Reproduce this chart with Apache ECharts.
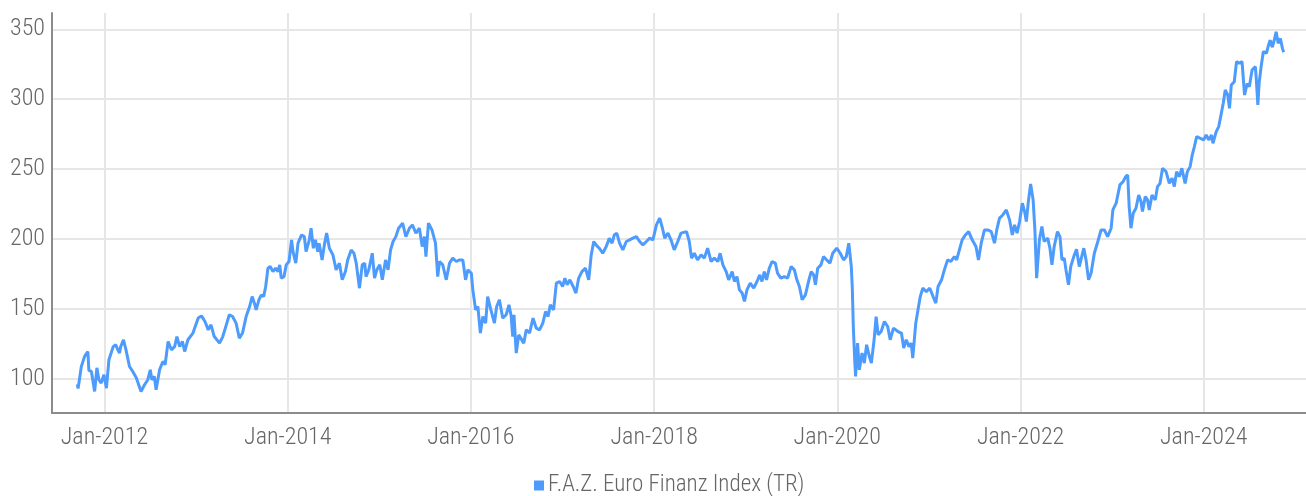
<!DOCTYPE html>
<html>
<head>
<meta charset="utf-8">
<script src="https://cdn.jsdelivr.net/npm/echarts@6/dist/echarts.min.js"></script>
<style>
  html, body { margin: 0; padding: 0; background: #fff; }
  #chart { width: 1306px; height: 496px; }
</style>
</head>
<body>
<div id="chart"></div>
<script>
// series name
const seriesName = 'F.A.Z. Euro Finanz Index (TR)';

// dates and index levels
const dates = [
  '2011-09-15','2011-09-18','2011-10-01','2011-10-14','2011-10-27','2011-10-31','2011-11-10','2011-11-23','2011-12-02','2011-12-10',
  '2011-12-19','2011-12-30','2012-01-09','2012-01-19','2012-02-05','2012-02-15','2012-02-24','2012-03-01','2012-03-06','2012-03-17',
  '2012-03-27','2012-04-10','2012-04-23','2012-05-07','2012-05-26','2012-06-09','2012-06-22','2012-07-02','2012-07-08','2012-07-18',
  '2012-07-25','2012-08-08','2012-08-21','2012-08-30','2012-09-11','2012-09-24','2012-10-07','2012-10-16','2012-10-27','2012-11-07',
  '2012-11-16','2012-11-29','2012-12-19','2013-01-09','2013-01-22','2013-02-05','2013-02-18','2013-03-01','2013-03-14','2013-03-19',
  '2013-04-04','2013-04-17','2013-05-01','2013-05-13','2013-05-26','2013-06-09','2013-06-22','2013-06-29','2013-07-05','2013-07-19',
  '2013-08-02','2013-08-12','2013-08-21','2013-08-28','2013-09-08','2013-09-18','2013-09-27','2013-10-05','2013-10-14','2013-10-23',
  '2013-11-03','2013-11-14','2013-11-23','2013-11-30','2013-12-06','2013-12-17','2013-12-26','2014-01-06','2014-01-16','2014-01-22',
  '2014-02-02','2014-02-11','2014-02-25','2014-03-08','2014-03-15','2014-03-28','2014-04-04','2014-04-13','2014-04-21','2014-05-01',
  '2014-05-06','2014-05-18','2014-05-27','2014-06-05','2014-06-16','2014-06-30','2014-07-13','2014-07-26','2014-08-06','2014-08-19',
  '2014-08-28','2014-09-11','2014-09-22','2014-10-01','2014-10-14','2014-10-25','2014-11-04','2014-11-09','2014-11-20','2014-12-04',
  '2014-12-13','2014-12-22','2015-01-03','2015-01-13','2015-01-26','2015-02-05','2015-02-15','2015-02-25','2015-03-08','2015-03-19',
  '2015-04-04','2015-04-17','2015-05-01','2015-05-13','2015-05-27','2015-06-10','2015-06-21','2015-06-30','2015-07-06','2015-07-16',
  '2015-07-30','2015-08-13','2015-08-22','2015-08-29','2015-09-11','2015-09-25','2015-10-08','2015-10-21','2015-11-04','2015-11-17',
  '2015-11-30','2015-12-11','2015-12-20','2016-01-03','2016-01-09','2016-01-20','2016-01-29','2016-02-08','2016-02-18','2016-02-29',
  '2016-03-08','2016-03-21','2016-04-04','2016-04-13','2016-04-24','2016-05-07','2016-05-21','2016-06-01','2016-06-10','2016-06-16',
  '2016-06-21','2016-06-30','2016-07-10','2016-07-17','2016-07-30','2016-08-09','2016-08-22','2016-09-05','2016-09-18','2016-10-01',
  '2016-10-14','2016-10-25','2016-11-04','2016-11-13','2016-11-26','2016-12-07','2016-12-20','2017-01-01','2017-01-10','2017-01-19',
  '2017-01-30','2017-02-12','2017-02-23','2017-03-06','2017-03-19','2017-04-02','2017-04-15','2017-04-25','2017-05-05','2017-05-14',
  '2017-05-27','2017-06-10','2017-06-24','2017-07-06','2017-07-17','2017-07-26','2017-08-05','2017-08-16','2017-08-29','2017-09-12',
  '2017-09-25','2017-10-08','2017-10-22','2017-11-04','2017-11-17','2017-12-01','2017-12-14','2017-12-27','2018-01-10','2018-01-23',
  '2018-02-03','2018-02-12','2018-02-25','2018-03-09','2018-03-22','2018-04-05','2018-04-18','2018-04-25','2018-05-10','2018-05-21',
  '2018-05-30','2018-06-10','2018-06-23','2018-07-07','2018-07-20','2018-08-02','2018-08-16','2018-08-29','2018-09-12','2018-09-21',
  '2018-10-02','2018-10-15','2018-10-25','2018-11-08','2018-11-17','2018-11-27','2018-12-07','2018-12-18','2018-12-27','2019-01-06',
  '2019-01-19','2019-02-02','2019-02-15','2019-02-26','2019-03-07','2019-03-16','2019-03-25','2019-04-05','2019-04-16','2019-04-29',
  '2019-05-08','2019-05-21','2019-06-04','2019-06-17','2019-07-01','2019-07-14','2019-07-24','2019-08-03','2019-08-14','2019-08-27',
  '2019-09-10','2019-09-19','2019-09-29','2019-10-06','2019-10-15','2019-10-28','2019-11-07','2019-11-20','2019-12-03','2019-12-14',
  '2019-12-30','2020-01-13','2020-01-26','2020-02-06','2020-02-16','2020-02-26','2020-03-01','2020-03-05','2020-03-10','2020-03-14',
  '2020-03-22','2020-03-29','2020-04-09','2020-04-18','2020-04-27','2020-05-08','2020-05-16','2020-05-27','2020-06-04','2020-06-12',
  '2020-06-24','2020-07-07','2020-07-20','2020-07-30','2020-08-12','2020-08-30','2020-09-13','2020-09-22','2020-10-02','2020-10-13',
  '2020-10-22','2020-10-28','2020-11-09','2020-11-18','2020-11-27','2020-12-07','2020-12-21','2021-01-04','2021-01-17','2021-01-28',
  '2021-02-06','2021-02-20','2021-03-03','2021-03-16','2021-03-29','2021-04-12','2021-04-21','2021-05-02','2021-05-13','2021-05-26',
  '2021-06-08','2021-06-22','2021-07-07','2021-07-17','2021-07-28','2021-08-10','2021-08-23','2021-09-06','2021-09-19','2021-09-28',
  '2021-10-09','2021-10-22','2021-11-05','2021-11-18','2021-11-29','2021-12-08','2021-12-18','2021-12-28','2022-01-08','2022-01-17',
  '2022-01-24','2022-02-01','2022-02-10','2022-02-20','2022-02-27','2022-03-06','2022-03-17','2022-03-27','2022-04-05','2022-04-19',
  '2022-04-28','2022-05-06','2022-05-15','2022-05-28','2022-06-07','2022-06-15','2022-06-24','2022-07-01','2022-07-11','2022-07-20',
  '2022-08-01','2022-08-12','2022-08-23','2022-09-10','2022-09-19','2022-09-29','2022-10-09','2022-10-22','2022-11-05','2022-11-18',
  '2022-12-01','2022-12-14','2022-12-28','2023-01-04','2023-01-17','2023-02-01','2023-02-14','2023-02-24','2023-03-04','2023-03-10',
  '2023-03-17','2023-03-26','2023-04-06','2023-04-17','2023-04-26','2023-05-02','2023-05-13','2023-05-22','2023-05-29','2023-06-09',
  '2023-06-22','2023-07-01','2023-07-11','2023-07-21','2023-08-04','2023-08-17','2023-08-28','2023-09-06','2023-09-15','2023-09-26',
  '2023-10-06','2023-10-19','2023-10-28','2023-11-08','2023-11-16','2023-11-25','2023-12-04','2023-12-17','2024-01-01','2024-01-11',
  '2024-01-22','2024-02-01','2024-02-07','2024-02-20','2024-03-01','2024-03-10','2024-03-19','2024-03-27','2024-04-06','2024-04-13',
  '2024-04-20','2024-05-02','2024-05-11','2024-05-22','2024-06-02','2024-06-06','2024-06-12','2024-06-18','2024-06-23','2024-07-01',
  '2024-07-12','2024-07-25','2024-07-29','2024-08-04','2024-08-09','2024-08-17','2024-08-26','2024-09-07','2024-09-17','2024-09-22',
  '2024-10-01','2024-10-10','2024-10-16','2024-10-24','2024-11-02','2024-11-10','2024-11-15'
];

const values = [
  96.0, 93.0, 108.8, 116.0, 119.5, 106.0, 105.2, 90.9, 107.8, 99.3,
  96.9, 102.9, 93.3, 113.6, 123.0, 124.3, 120.7, 118.4, 123.0, 127.9,
  120.7, 108.8, 105.2, 100.7, 90.9, 95.7, 99.3, 106.4, 99.3, 101.6,
  92.1, 106.4, 112.4, 110.0, 126.7, 120.7, 123.0, 130.2, 123.0, 126.7,
  119.5, 127.9, 132.7, 143.4, 145.0, 141.0, 135.0, 138.6, 130.2, 129.0,
  125.5, 130.2, 138.6, 145.8, 144.5, 139.8, 129.0, 130.0, 133.0, 144.5,
  151.7, 158.8, 154.1, 149.3, 156.5, 160.0, 158.8, 166.0, 179.1, 180.3,
  176.7, 179.1, 176.7, 181.5, 172.0, 173.1, 181.5, 183.9, 199.4, 191.0,
  182.7, 197.0, 202.9, 201.7, 191.0, 199.4, 207.7, 193.4, 199.4, 191.0,
  197.0, 185.0, 195.8, 204.2, 193.4, 188.6, 177.9, 182.7, 170.8, 176.7,
  185.0, 192.2, 189.8, 182.7, 164.8, 181.5, 182.7, 173.1, 177.9, 189.8,
  172.0, 177.9, 181.5, 170.8, 185.0, 177.9, 192.2, 198.2, 201.7, 207.7,
  211.3, 201.7, 207.7, 210.1, 204.2, 207.7, 194.6, 201.7, 187.4, 211.3,
  206.5, 197.0, 173.1, 183.9, 181.5, 170.8, 182.7, 186.3, 183.9, 185.0,
  185.0, 170.8, 177.9, 175.5, 163.6, 149.3, 151.7, 132.7, 144.5, 139.8,
  158.8, 149.3, 139.8, 151.7, 156.5, 143.4, 145.8, 152.9, 144.5, 130.2,
  145.8, 118.4, 131.4, 132.7, 125.5, 135.0, 132.7, 143.4, 136.2, 135.0,
  139.8, 148.1, 144.5, 152.9, 149.3, 168.4, 169.6, 166.0, 172.0, 167.2,
  170.8, 166.0, 161.3, 172.0, 176.7, 179.1, 170.8, 188.6, 198.2, 195.8,
  193.4, 189.8, 194.6, 200.6, 197.0, 202.9, 204.2, 197.0, 192.2, 198.2,
  199.4, 200.6, 201.7, 198.2, 195.8, 198.2, 200.6, 199.4, 210.1, 214.9,
  207.7, 200.6, 204.2, 199.4, 192.2, 198.2, 204.2, 205.3, 205.3, 198.2,
  186.3, 189.8, 185.0, 188.6, 186.3, 193.4, 183.9, 186.3, 183.9, 189.8,
  181.5, 176.7, 170.8, 176.7, 169.6, 173.1, 163.6, 161.3, 155.3, 163.6,
  168.4, 164.8, 169.6, 174.3, 169.6, 176.7, 170.8, 179.1, 183.9, 182.7,
  175.5, 172.0, 173.1, 172.0, 180.3, 177.9, 170.8, 166.0, 156.5, 160.0,
  170.8, 176.7, 174.3, 167.2, 179.1, 181.5, 187.4, 185.0, 182.7, 189.8,
  193.4, 189.8, 185.0, 187.4, 197.0, 180.3, 164.8, 137.4, 116.0, 101.6,
  125.5, 106.4, 118.4, 111.2, 124.3, 116.0, 111.2, 127.9, 144.5, 131.4,
  133.8, 141.0, 137.4, 127.9, 136.2, 133.8, 132.7, 121.9, 127.9, 123.0,
  125.5, 114.8, 139.8, 149.3, 158.8, 164.8, 162.4, 164.8, 158.8, 154.1,
  166.0, 170.8, 177.9, 185.0, 183.9, 187.4, 185.0, 192.2, 199.4, 202.9,
  205.3, 199.4, 194.6, 185.0, 197.0, 206.5, 206.5, 205.3, 197.0, 206.5,
  214.9, 217.2, 220.8, 213.7, 202.9, 210.1, 204.2, 212.5, 225.6, 219.6,
  212.5, 226.8, 239.4, 228.0, 206.5, 172.0, 199.4, 209.0, 198.2, 200.6,
  193.4, 181.5, 194.6, 205.3, 201.7, 185.0, 186.3, 177.9, 167.2, 180.3,
  187.4, 192.7, 180.3, 193.4, 185.0, 170.8, 175.5, 189.8, 198.2, 206.5,
  206.5, 201.7, 207.7, 220.8, 225.6, 238.7, 241.1, 244.6, 245.8, 223.2,
  207.7, 218.4, 222.0, 231.5, 226.8, 219.6, 230.4, 228.0, 220.8, 231.5,
  228.0, 237.5, 239.8, 250.6, 248.2, 239.8, 243.5, 237.5, 248.2, 244.6,
  250.6, 239.8, 248.2, 251.8, 259.8, 266.1, 273.2, 272.1, 270.9, 274.4,
  270.9, 274.4, 268.5, 276.8, 280.4, 288.7, 297.1, 306.6, 303.0, 293.5,
  310.1, 312.5, 326.9, 325.7, 326.9, 317.3, 303.0, 307.8, 311.3, 309.0,
  320.9, 323.3, 313.8, 295.9, 311.3, 323.3, 334.1, 332.9, 339.6, 342.3,
  337.2, 343.5, 348.3, 340.0, 343.5, 336.4, 333.6
];

// x-axis labels sit on January of every second year
const tickDates = ['2012-01-01', '2014-01-01', '2016-01-01', '2018-01-01', '2020-01-01', '2022-01-01', '2024-01-01'];
const monthNames = ['Jan', 'Feb', 'Mar', 'Apr', 'May', 'Jun', 'Jul', 'Aug', 'Sep', 'Oct', 'Nov', 'Dec'];

const toMs = (s) => Date.parse(s + 'T00:00:00Z');

const chart = echarts.init(document.getElementById('chart'));

const axisFont = "'Roboto Condensed', 'Roboto', sans-serif";
const tickMs = tickDates.map(toMs);

const option = {
  animation: false,
  grid: {
    left: 52,
    right: 0,
    top: 13,
    bottom: 83
  },
  legend: {
    data: [seriesName],
    left: 529,
    top: 469,
    icon: 'rect',
    itemWidth: 10,
    itemHeight: 10,
    itemGap: 6,
    textStyle: {
      fontFamily: axisFont,
      fontWeight: 300,
      fontSize: 23,
      color: '#666',
      padding: [0, 0, 0, -1]
    }
  },
  xAxis: {
    // plain value axis holding UTC milliseconds, so the ticks can be placed by hand
    type: 'value',
    min: toMs('2011-06-06'),
    max: toMs('2025-02-12'),
    axisLine: { show: true, lineStyle: { color: '#8c8c8c', width: 2 } },
    axisTick: { show: false, customValues: tickMs },
    axisLabel: {
      customValues: tickMs,
      margin: 13,
      fontFamily: axisFont,
      fontWeight: 300,
      fontSize: 24,
      color: '#666',
      formatter: function (val) {
        const d = new Date(val);
        return monthNames[d.getUTCMonth()] + '-' + d.getUTCFullYear();
      }
    },
    splitLine: { show: true, lineStyle: { color: '#e6e6e6', width: 2 } }
  },
  yAxis: {
    type: 'value',
    min: 75.5,
    max: 361.7,
    splitNumber: 5,
    axisLine: { show: true, lineStyle: { color: '#8c8c8c', width: 2 } },
    axisTick: { show: false },
    axisLabel: {
      margin: 7,
      showMinLabel: false,
      showMaxLabel: false,
      fontFamily: axisFont,
      fontWeight: 300,
      fontSize: 24,
      color: '#666'
    },
    splitLine: {
      show: true,
      showMinLine: false,
      showMaxLine: false,
      lineStyle: { color: '#e6e6e6', width: 2 }
    }
  },
  series: [
    {
      name: seriesName,
      type: 'line',
      data: dates.map((d, i) => [toMs(d), values[i]]),
      showSymbol: false,
      symbol: 'none',
      lineStyle: { color: '#4d9bfc', width: 3 },
      itemStyle: { color: '#4d9bfc' }
    }
  ]
};

chart.setOption(option);
</script>
</body>
</html>
